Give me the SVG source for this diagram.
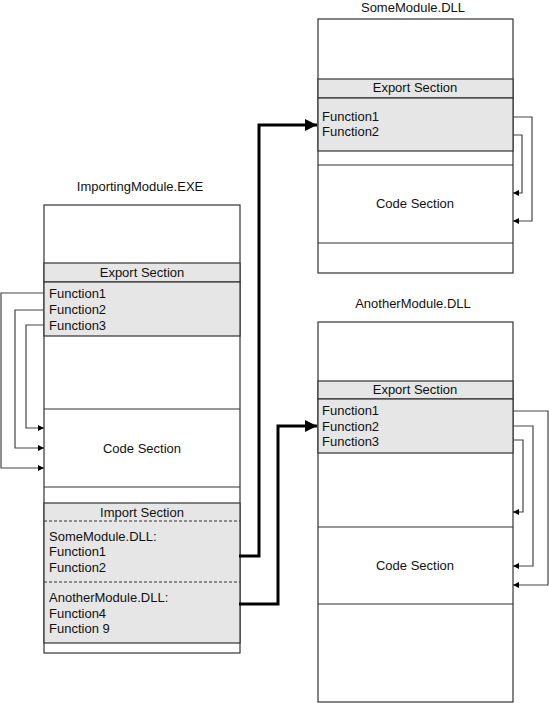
<svg xmlns="http://www.w3.org/2000/svg" width="549" height="703" viewBox="0 0 549 703">
<defs>
<style>
text{font-family:"Liberation Sans",Arial,sans-serif;font-size:13px;fill:#111}
.c{text-anchor:middle}
.box{fill:#fff;stroke:#333;stroke-width:1.2}
.band{fill:#e6e6e6;stroke:#333;stroke-width:1.2}
.ln{stroke:#333;stroke-width:1.2;fill:none}
.dash{stroke:#333;stroke-width:1;stroke-dasharray:3 2;fill:none}
.thin{stroke:#444;stroke-width:1.2;fill:none;marker-end:url(#sa)}
.thick{stroke:#000;stroke-width:3;fill:none;marker-end:url(#la)}
</style>
<marker id="sa" viewBox="0 0 8 8" refX="8" refY="4" markerWidth="6" markerHeight="6" markerUnits="userSpaceOnUse" orient="auto"><path d="M0,0L8,4L0,8z" fill="#000"/></marker>
<marker id="la" viewBox="0 0 10 10" refX="10" refY="5" markerWidth="12" markerHeight="12" markerUnits="userSpaceOnUse" orient="auto"><path d="M0,0L10,5L0,10z" fill="#000"/></marker>
</defs>

<g id="importing-module">
<text class="c" x="140" y="191">ImportingModule.EXE</text>
<rect class="box" x="44" y="205" width="196" height="448"/>
<rect class="band" x="44" y="263" width="196" height="19"/>
<rect class="band" x="44" y="282" width="196" height="54"/>
<line class="ln" x1="44" y1="409" x2="240" y2="409"/>
<line class="ln" x1="44" y1="487" x2="240" y2="487"/>
<rect class="band" x="44" y="503" width="196" height="140"/>
<line class="dash" x1="44" y1="521" x2="240" y2="521"/>
<line class="dash" x1="44" y1="582" x2="240" y2="582"/>
<text class="c" x="142" y="277">Export Section</text>
<text x="49" y="298">Function1</text>
<text x="49" y="314">Function2</text>
<text x="49" y="330">Function3</text>
<text class="c" x="142" y="453">Code Section</text>
<text class="c" x="142" y="517">Import Section</text>
<text x="49" y="541">SomeModule.DLL:</text>
<text x="49" y="556">Function1</text>
<text x="49" y="572">Function2</text>
<text x="49" y="602">AnotherModule.DLL:</text>
<text x="49" y="618">Function4</text>
<text x="49" y="633">Function 9</text>
</g>

<g id="some-module">
<text class="c" x="413" y="12">SomeModule.DLL</text>
<rect class="box" x="318" y="19" width="195" height="254"/>
<rect class="band" x="318" y="79" width="195" height="19"/>
<rect class="band" x="318" y="98" width="195" height="53"/>
<line class="ln" x1="318" y1="165" x2="513" y2="165"/>
<line class="ln" x1="318" y1="243" x2="513" y2="243"/>
<text class="c" x="415" y="92">Export Section</text>
<text x="322" y="121">Function1</text>
<text x="322" y="136">Function2</text>
<text class="c" x="415" y="208">Code Section</text>
</g>

<g id="another-module">
<text class="c" x="413" y="308">AnotherModule.DLL</text>
<rect class="box" x="318" y="322" width="195" height="380"/>
<rect class="band" x="318" y="381" width="195" height="18"/>
<rect class="band" x="318" y="399" width="195" height="54"/>
<line class="ln" x1="318" y1="527" x2="513" y2="527"/>
<line class="ln" x1="318" y1="604" x2="513" y2="604"/>
<text class="c" x="415" y="394">Export Section</text>
<text x="322" y="415">Function1</text>
<text x="322" y="431">Function2</text>
<text x="322" y="446">Function3</text>
<text class="c" x="415" y="570">Code Section</text>
</g>

<g id="connectors">
<polyline class="thin" points="44,293 1,293 1,468 44,468"/>
<polyline class="thin" points="44,310 15,310 15,448 44,448"/>
<polyline class="thin" points="44,325 26,325 26,428 44,428"/>
<polyline class="thin" points="513,117 532,117 532,221 513,221"/>
<polyline class="thin" points="513,135 522,135 522,193 513,193"/>
<polyline class="thin" points="513,411 548,411 548,585 513,585"/>
<polyline class="thin" points="513,426 533,426 533,566 513,566"/>
<polyline class="thin" points="513,440 523,440 523,512 513,512"/>
<polyline class="thick" points="239,556 259,556 259,125 317,125"/>
<polyline class="thick" points="239,604 278,604 278,426 317,426"/>
</g>
</svg>
